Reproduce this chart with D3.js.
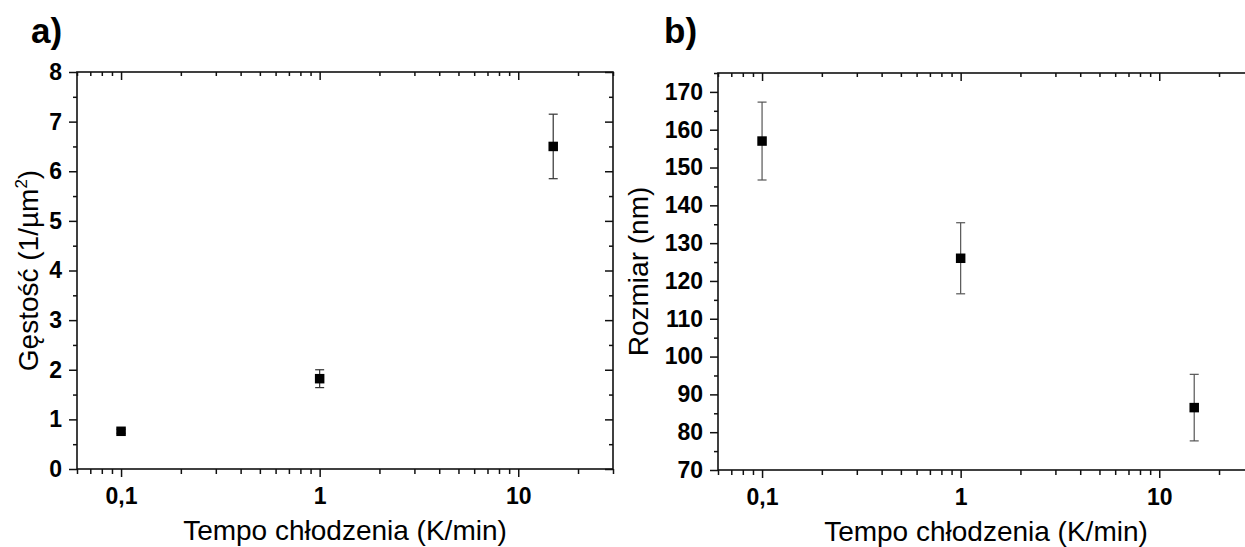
<!DOCTYPE html>
<html>
<head>
<meta charset="utf-8">
<script src="https://cdn.jsdelivr.net/npm/d3@7"></script>
<style>
  body { margin: 0; background: #fff; }
  svg { display: block; font-family: "Liberation Sans", Arial, sans-serif; }
</style>
</head>
<body>
<div id="chart"></div>
<script>
// cooling rate (K/min)
var rates = [0.1, 1, 15];
// a) density (1/um2)
var density = [0.76, 1.82, 6.5];
var densityErr = [0.04, 0.18, 0.65];
// b) size (nm)
var size = [157, 126, 86.5];
var sizeErr = [10.3, 9.4, 8.8];

var xMajor = [0.1, 1, 10];
var xTickLabels = ["0,1", "1", "10"];
var yTicksA = [0, 1, 2, 3, 4, 5, 6, 7, 8];
var yTicksB = [70, 80, 90, 100, 110, 120, 130, 140, 150, 160, 170];

var W = 1245, H = 547;
var svg = d3.select("#chart").append("svg").attr("width", W).attr("height", H);

function panel(opt) {
    var t = opt;
    var g = svg.append("g").attr("transform", "translate(" + t.left + "," + t.top + ")");
    var w = t.width, h = t.height;

    var x = d3.scaleLog().domain([0.06, 30]).range([0, w]);
    var y = d3.scaleLinear().domain(t.yDomain).range([h, 0]);

    var xMinor = x.ticks().filter(function (v) { return xMajor.indexOf(v) < 0; });
    var yMinor = t.yTicks.slice(0, -1).map(function (v, i) { return (v + t.yTicks[i + 1]) / 2; });
    if (t.yDomain[1] > t.yTicks[t.yTicks.length - 1]) {
        yMinor.push(t.yTicks[t.yTicks.length - 1] + (t.yTicks[1] - t.yTicks[0]) / 2);
    }

    // bottom axis (outward)
    g.append("g").attr("class", "ax").attr("transform", "translate(0," + h + ")")
        .call(d3.axisBottom(x).tickValues(xMinor).tickSize(5).tickFormat(""));
    g.append("g").attr("class", "ax").attr("transform", "translate(0," + h + ")")
        .call(d3.axisBottom(x).tickValues(xMajor).tickSize(8).tickPadding(11)
            .tickFormat(function (d, i) { return xTickLabels[i]; }));
    // top axis (inward)
    g.append("g").attr("class", "ax")
        .call(d3.axisTop(x).tickValues(xMinor).tickSize(-4).tickFormat(""));
    g.append("g").attr("class", "ax")
        .call(d3.axisTop(x).tickValues(xMajor).tickSize(-8).tickFormat(""));
    // left axis (outward)
    g.append("g").attr("class", "ax")
        .call(d3.axisLeft(y).tickValues(yMinor).tickSize(4).tickFormat(""));
    g.append("g").attr("class", "ax")
        .call(d3.axisLeft(y).tickValues(t.yTicks).tickSize(8).tickPadding(7));
    // right axis (inward)
    g.append("g").attr("class", "ax").attr("transform", "translate(" + w + ",0)")
        .call(d3.axisRight(y).tickValues(yMinor).tickSize(-4).tickFormat(""));
    g.append("g").attr("class", "ax").attr("transform", "translate(" + w + ",0)")
        .call(d3.axisRight(y).tickValues(t.yTicks).tickSize(-8).tickFormat(""));

    g.selectAll(".ax .domain").remove();
    g.selectAll(".ax line").attr("stroke", "#111").attr("stroke-width", 1.5);
    g.selectAll(".ax text").attr("fill", "#000").attr("font-size", 23)
        .attr("font-weight", "bold").attr("font-family", "Liberation Sans, Arial, sans-serif");

    // frame
    g.append("rect").attr("width", w).attr("height", h)
        .attr("fill", "none").attr("stroke", "#111").attr("stroke-width", 1.6);

    // error bars
    var cap = 4.5;
    var eb = g.selectAll(".err").data(t.values).enter().append("g").attr("class", "err")
        .attr("stroke", t.errColor).attr("stroke-width", 1.2);
    eb.append("line")
        .attr("x1", function (d, i) { return x(rates[i]); })
        .attr("x2", function (d, i) { return x(rates[i]); })
        .attr("y1", function (d, i) { return y(d + t.errs[i]); })
        .attr("y2", function (d, i) { return y(d - t.errs[i]); });
    eb.append("line")
        .attr("x1", function (d, i) { return x(rates[i]) - cap; })
        .attr("x2", function (d, i) { return x(rates[i]) + cap; })
        .attr("y1", function (d, i) { return y(d + t.errs[i]); })
        .attr("y2", function (d, i) { return y(d + t.errs[i]); });
    eb.append("line")
        .attr("x1", function (d, i) { return x(rates[i]) - cap; })
        .attr("x2", function (d, i) { return x(rates[i]) + cap; })
        .attr("y1", function (d, i) { return y(d - t.errs[i]); })
        .attr("y2", function (d, i) { return y(d - t.errs[i]); });

    // square markers
    var s = 9.5;
    g.selectAll(".pt").data(t.values).enter().append("rect").attr("class", "pt")
        .attr("x", function (d, i) { return x(rates[i]) - s / 2; })
        .attr("y", function (d) { return y(d) - s / 2; })
        .attr("width", s).attr("height", s)
        .attr("fill", "#000");

    // axis titles
    g.append("text")
        .attr("x", w / 2).attr("y", h + 71)
        .attr("text-anchor", "middle").attr("font-size", 28)
        .text("Tempo chłodzenia (K/min)");

    var yl = g.append("text")
        .attr("transform", "translate(" + t.yTitleX + "," + (h / 2) + ") rotate(-90)")
        .attr("text-anchor", "middle").attr("font-size", 28);
    yl.append("tspan").text(t.yTitle);
    if (t.yTitleSup) {
        yl.append("tspan").attr("font-size", 17).attr("dy", -11).text(t.yTitleSup);
        yl.append("tspan").attr("dy", 11).text(t.yTitleEnd);
    }

    // panel letter
    svg.append("text")
        .attr("x", t.letterX).attr("y", 43)
        .attr("font-size", 35).attr("font-weight", "bold")
        .text(t.letter);
}

panel({
    left: 77, top: 72, width: 536, height: 397,
    yDomain: [0, 8], yTicks: yTicksA,
    values: density, errs: densityErr, errColor: "#333",
    yTitle: "Gęstość (1/µm", yTitleSup: "2", yTitleEnd: ")", yTitleX: -39,
    letter: "a)", letterX: 31
});

panel({
    left: 718, top: 73, width: 536, height: 397,
    yDomain: [70, 175], yTicks: yTicksB,
    values: size, errs: sizeErr, errColor: "#555",
    yTitle: "Rozmiar (nm)", yTitleX: -70,
    letter: "b)", letterX: 664
});
</script>
</body>
</html>
